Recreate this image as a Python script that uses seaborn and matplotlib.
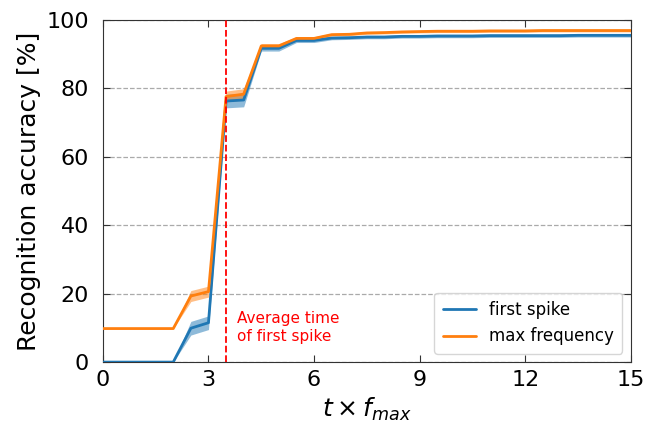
import numpy as np
import pandas as pd
import seaborn as sns
import matplotlib.pyplot as plt

# time axis (t x f_max)
t = [0, 0.5, 1.0, 1.5, 2.0, 2.5, 3.0, 3.5, 4.0, 4.5, 5.0, 5.5, 6.0, 6.5, 7.0, 7.5, 8.0,
     8.5, 9.0, 9.5, 10.0, 10.5, 11.0, 11.5, 12.0, 12.5, 13.0, 13.5, 14.0, 14.5, 15.0]

# mean accuracy [%]
first_spike = [0, 0, 0, 0, 0, 9.9, 11.5, 76.3, 76.6, 91.7, 91.7, 94.0, 94.0, 94.7, 94.8, 95.0, 95.0,
               95.2, 95.2, 95.3, 95.3, 95.3, 95.4, 95.4, 95.4, 95.4, 95.4, 95.5, 95.5, 95.5, 95.5]
max_freq = [9.8, 9.8, 9.8, 9.8, 9.8, 19.3, 20.6, 77.6, 78.3, 92.4, 92.4, 94.6, 94.6, 95.7, 95.8, 96.2, 96.3,
            96.5, 96.6, 96.7, 96.7, 96.7, 96.8, 96.8, 96.8, 96.9, 96.9, 96.9, 96.9, 96.9, 96.9]

# spread (half width of shaded band)
first_spike_err = [0, 0, 0, 0, 0, 2.0, 2.0, 2.0, 2.0, 0.8, 0.8, 0.6, 0.6, 0.5, 0.5, 0.5, 0.5,
                   0.5, 0.5, 0.5, 0.5, 0.5, 0.5, 0.5, 0.5, 0.5, 0.5, 0.5, 0.5, 0.5, 0.5]
max_freq_err = [0, 0, 0, 0, 0, 1.6, 1.6, 1.6, 1.6, 0.7, 0.7, 0.5, 0.5, 0.4, 0.4, 0.4, 0.4,
                0.4, 0.4, 0.4, 0.4, 0.4, 0.4, 0.4, 0.4, 0.4, 0.4, 0.4, 0.4, 0.4, 0.4]

avg_first_spike = 3.5

sns.set_style('ticks')
plt.rcParams['font.family'] = ['DejaVu Sans']
plt.rcParams['text.color'] = 'black'
plt.rcParams['axes.labelcolor'] = 'black'
plt.rcParams['xtick.color'] = 'black'
plt.rcParams['ytick.color'] = 'black'

df = pd.DataFrame({
    't': t * 2,
    'acc': first_spike + max_freq,
    'coding': ['first spike'] * len(t) + ['max frequency'] * len(t),
})

fig = plt.figure(figsize=(6.47, 4.24), dpi=100)
ax = fig.add_axes([0.159, 0.146, 0.816, 0.807])

palette = {'first spike': '#1f77b4', 'max frequency': '#ff7f0e'}
sns.lineplot(data=df, x='t', y='acc', hue='coding', palette=palette, ax=ax,
             linewidth=2, zorder=3)

for mean, err, name in [(first_spike, first_spike_err, 'first spike'),
                        (max_freq, max_freq_err, 'max frequency')]:
    mean = np.array(mean)
    err = np.array(err)
    ax.fill_between(t, mean - err, mean + err, color=palette[name], alpha=0.5,
                    linewidth=0, zorder=2)

ax.axvline(avg_first_spike, color='red', linestyle='--', linewidth=1.3, zorder=4)
ax.text(avg_first_spike + 0.3, 10, 'Average time\nof first spike', color='red',
        fontsize=11, va='center', ha='left', multialignment='left', linespacing=1.25)

ax.set_xlim(0, 15)
ax.set_ylim(0, 100)
ax.set_xticks([0, 3, 6, 9, 12, 15])
ax.set_yticks([0, 20, 40, 60, 80, 100])
ax.yaxis.grid(True, linestyle='--', color='#aaaaaa', linewidth=0.9)
ax.tick_params(direction='in', top=True, right=True, labelsize=16, length=5,
               color='#333333')
ax.tick_params(axis='y', pad=10)
ax.tick_params(axis='x', pad=6)
for s in ax.spines.values():
    s.set_color('#333333')

ax.set_xlabel(r'$t \times f_{max}$', fontsize=18, labelpad=4)
ax.set_ylabel('Recognition accuracy [%]', fontsize=18, labelpad=4)

ax.legend(loc='lower right', fontsize=12, frameon=True, fancybox=True,
          handlelength=2, borderpad=0.5)

plt.savefig('out.png', dpi=100)
plt.close()
